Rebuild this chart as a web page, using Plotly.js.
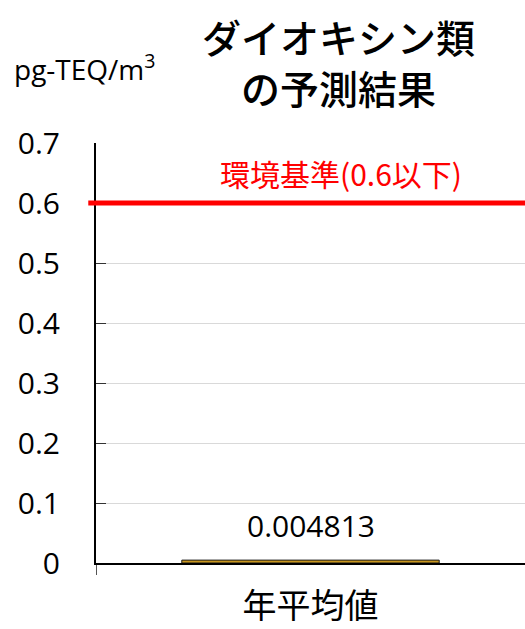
<!DOCTYPE html>
<html><head><meta charset="utf-8">
<script src="https://cdn.plot.ly/plotly-3.0.1.min.js"></script>
<style>html,body{margin:0;padding:0;background:#fff}</style>
</head><body>
<div id="chart" style="width:525px;height:629px"></div>
<script>
const categories = ["年平均値"];
const values = [0.004813];
const valueLabels = ["0.004813"];
const standardValue = 0.6;
const standardLabel = "環境基準(0.6以下)";
const yTicks = [0, 0.1, 0.2, 0.3, 0.4, 0.5, 0.6, 0.7];
const yTickText = ["0", "0.1", "0.2", "0.3", "0.4", "0.5", "0.6", "0.7"];
const titleLines = ["ダイオキシン類", "の予測結果"];
const unitLabel = "pg-TEQ/m<sup>3</sup>";

const numFont = "Open Sans, Noto Sans CJK JP, sans-serif";
const jpFont = "Noto Sans CJK JP, sans-serif";

const trace = {
  type: "bar",
  x: categories,
  y: values,
  width: 0.6,
  marker: {color: "#c8961e", line: {color: "#1a1a1a", width: 1}},
  hoverinfo: "none"
};

const layout = {
  width: 525, height: 629,
  margin: {l: 96, r: 0, t: 143, b: 66},
  paper_bgcolor: "#fff", plot_bgcolor: "#fff",
  showlegend: false,
  font: {family: numFont, color: "#000"},
  xaxis: {
    type: "category",
    showline: true, linecolor: "#000", linewidth: 2,
    ticks: "outside", tickson: "boundaries", ticklen: 10, tickcolor: "#555", tickwidth: 1,
    tickfont: {family: jpFont, size: 34, color: "#000"},
    ticklabelstandoff: 12,
    showgrid: false,
    range: [-0.5, 0.5]
  },
  yaxis: {
    range: [0, 0.7],
    tickvals: yTicks, ticktext: yTickText,
    showline: true, linecolor: "#000", linewidth: 2,
    ticks: "inside", ticklen: 10, tickcolor: "#333", tickwidth: 1,
    showgrid: true, gridcolor: "#d9d9d9", gridwidth: 1,
    zeroline: false,
    tickfont: {family: numFont, size: 30, color: "#000"},
    ticklabelstandoff: 28
  },
  shapes: [{
    type: "line", xref: "paper", yref: "y",
    x0: -0.018, x1: 1, y0: standardValue, y1: standardValue,
    line: {color: "#ff0000", width: 5}
  }],
  annotations: [
    {xref: "paper", yref: "y", x: 0.57, y: standardValue, yanchor: "bottom", yshift: 6,
     text: standardLabel, showarrow: false,
     font: {family: jpFont, size: 30, color: "#ff0000"}},
    {xref: "x", yref: "y", x: categories[0], y: values[0], yanchor: "bottom", yshift: 12,
     text: valueLabels[0], showarrow: false,
     font: {family: numFont, size: 30, color: "#000"}},
    {xref: "paper", yref: "paper", x: 0.565, y: (563 - 61) / 420, yanchor: "middle",
     text: titleLines.join("<br>"), showarrow: false, align: "center",
     font: {family: jpFont, size: 39, color: "#000", weight: 500}},
    {xref: "paper", yref: "paper", x: -0.195, xanchor: "left", y: (563 - 68) / 420, yanchor: "middle",
     text: unitLabel, showarrow: false,
     font: {family: numFont, size: 28, color: "#000"}}
  ]
};

Plotly.newPlot("chart", [trace], layout, {staticPlot: true, displayModeBar: false});
</script>
</body></html>
